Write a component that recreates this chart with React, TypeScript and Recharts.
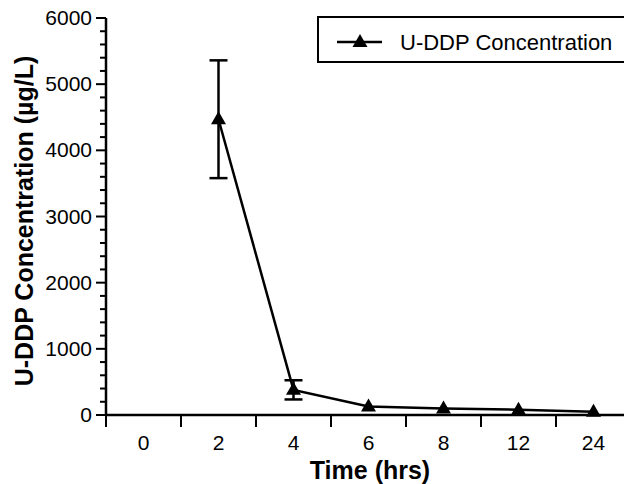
import { LineChart, Line, XAxis, YAxis, ErrorBar, Legend } from 'recharts'

// Time points (hrs) shown on the x axis; 0 has no sample
const hours = ['0', '2', '4', '6', '8', '12', '24']
const concentration = [null, 4470, 380, 130, 100, 80, 50]
const errorSize = [null, 890, 145, null, null, null, null]

const majorTicks = [0, 1000, 2000, 3000, 4000, 5000, 6000]
const minorStep = 200

const data = hours.map((h, i) => ({
  idx: i,
  label: h,
  value: concentration[i],
  err: errorSize[i],
}))

// minor ticks every 200 between the major ones
const yTicks: number[] = []
majorTicks.forEach((m, i) => {
  yTicks.push(m)
  if (i < majorTicks.length - 1) {
    for (let v = m + minorStep; v < majorTicks[i + 1]; v += minorStep) yTicks.push(v)
  }
})

const CHART_W = 640
const CHART_H = 484
const MARGIN = { top: 18, right: 9, left: 0, bottom: 0 }
const Y_WIDTH = 106
const BAND = (CHART_W - MARGIN.right - Y_WIDTH) / hours.length
const FONT = '"Liberation Sans", Arial, Helvetica, sans-serif'

function Triangle({ cx, cy }: any) {
  if (cx == null || cy == null) return null
  return (
    <polygon
      points={`${cx},${cy - 8} ${cx - 7.5},${cy + 5} ${cx + 7.5},${cy + 5}`}
      fill="#000"
    />
  )
}

function XTick({ x, y, payload }: any) {
  const left = x - BAND / 2
  return (
    <g>
      <line x1={left} x2={left} y1={y} y2={y + 12} stroke="#000" strokeWidth={2} />
      <text x={x} y={y + 35} textAnchor="middle" fontSize={21} fontFamily={FONT} fill="#000">
        {hours[payload.value]}
      </text>
    </g>
  )
}

function YTick({ x, y, payload }: any) {
  const major = payload.value % 1000 === 0
  if (!major) {
    return <line x1={x - 6} x2={x} y1={y} y2={y} stroke="#000" strokeWidth={2} />
  }
  return (
    <g>
      <line x1={x - 10} x2={x} y1={y} y2={y} stroke="#000" strokeWidth={2} />
      <text x={x - 14} y={y + 7} textAnchor="end" fontSize={21} fontFamily={FONT} fill="#000">
        {payload.value}
      </text>
    </g>
  )
}

// axis titles ignore the props recharts passes in
function XTitle() {
  return (
    <text x={370} y={479} textAnchor="middle" fontSize={25} fontWeight="bold" fontFamily={FONT} fill="#000">
      Time (hrs)
    </text>
  )
}

function YTitle() {
  return (
    <text
      x={0}
      y={0}
      transform="translate(33 221) rotate(-90)"
      textAnchor="middle"
      fontSize={25}
      fontWeight="bold"
      fontFamily={FONT}
      fill="#000"
    >
      U-DDP Concentration (µg/L)
    </text>
  )
}

function LegendBox() {
  return (
    <div
      style={{
        border: '2px solid #000',
        width: 330,
        height: 43,
        background: '#fff',
      }}
    >
      <svg width={330} height={43}>
        <line x1={18} x2={63} y1={24} y2={24} stroke="#000" strokeWidth={2.5} />
        <polygon points="41,16 33.5,29 48.5,29" fill="#000" />
        <text x={81} y={32} fontSize={22} fontFamily={FONT} fill="#000">
          U-DDP Concentration
        </text>
      </svg>
    </div>
  )
}

export default function App() {
  return (
    <div
      style={{
        position: 'absolute',
        top: 0,
        left: 0,
        width: 624,
        height: 484,
        overflow: 'hidden',
        background: '#fff',
      }}
    >
      <LineChart width={CHART_W} height={CHART_H} data={data} margin={MARGIN}>
        <XAxis
          dataKey="idx"
          type="number"
          domain={[-0.5, 6.5]}
          ticks={[0, 1, 2, 3, 4, 5, 6]}
          interval={0}
          height={CHART_H - 415 - MARGIN.bottom}
          tickSize={0}
          tickMargin={0}
          tick={<XTick />}
          axisLine={{ stroke: '#000', strokeWidth: 2.5 }}
          label={<XTitle />}
        />
        <YAxis
          type="number"
          domain={[0, 6000]}
          ticks={yTicks}
          interval={0}
          width={Y_WIDTH}
          tickSize={0}
          tickMargin={0}
          tick={<YTick />}
          axisLine={{ stroke: '#000', strokeWidth: 2.5 }}
          label={<YTitle />}
        />
        <Legend
          layout="vertical"
          align="center"
          verticalAlign="middle"
          content={<LegendBox />}
          wrapperStyle={{ top: 16, left: 317, width: 334 }}
        />
        <Line
          dataKey="value"
          stroke="#000"
          strokeWidth={2.5}
          dot={<Triangle />}
          activeDot={false}
          isAnimationActive={false}
        >
          <ErrorBar dataKey="err" direction="y" width={9} stroke="#000" strokeWidth={2.5} />
        </Line>
      </LineChart>
    </div>
  )
}
